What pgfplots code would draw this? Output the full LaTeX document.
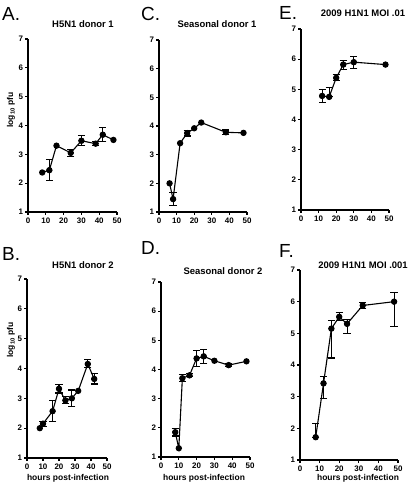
\documentclass[border=0pt]{standalone}
\usepackage{fontspec}
\setmainfont{Liberation Sans}
\usepackage{pgfplots}
\pgfplotsset{compat=1.18}
\usepackage{pgfplotstable}

% ---- data (line + markers) ----
\pgfplotstableread{
x y
8 2.37
12 2.45
16 3.30
24 3.05
30 3.47
38 3.37
42 3.68
48 3.50
}\dA
\pgfplotstableread{
x y ep em
12 2.45 0.37 0.35
24 3.05 0.13 0.12
30 3.47 0.18 0.17
38 3.37 0.08 0.07
42 3.68 0.24 0.23
}\eA
\pgfplotstableread{
x y
6 2.00
8 1.45
12 3.40
16 3.75
20 3.92
24 4.12
38 3.78
48 3.76
}\dC
\pgfplotstableread{
x y ep em
8 1.45 0.23 0.23
16 3.75 0.10 0.10
38 3.78 0.08 0.08
}\eC
\pgfplotstableread{
x y
12 4.78
16 4.75
20 5.38
24 5.82
30 5.90
48 5.82
}\dE
\pgfplotstableread{
x y ep em
12 4.78 0.22 0.23
16 4.75 0.30 0.00
20 5.38 0.12 0.10
24 5.82 0.15 0.17
30 5.90 0.20 0.22
}\eE
\pgfplotstableread{
x y
8 2.00
10 2.15
16 2.57
20 3.32
24 2.93
28 3.00
32 3.25
38 4.15
42 3.65
}\dB
\pgfplotstableread{
x y ep em
10 2.15 0.08 0.08
16 2.57 0.36 0.35
20 3.32 0.15 0.14
24 2.93 0.14 0.11
28 3.00 0.28 0.28
38 4.15 0.15 0.12
42 3.65 0.17 0.17
}\eB
\pgfplotstableread{
x y
8 1.85
10 1.30
12 3.70
16 3.80
20 4.38
24 4.45
30 4.30
38 4.15
48 4.28
}\dD
\pgfplotstableread{
x y ep em
8 1.85 0.13 0.13
12 3.70 0.12 0.10
16 3.80 0.05 0.05
20 4.38 0.27 0.28
24 4.45 0.23 0.23
38 4.15 0.05 0.05
}\eD
\pgfplotstableread{
x y
8 1.72
12 3.42
16 5.15
20 5.52
24 5.30
32 5.88
48 6.00
}\dF
\pgfplotstableread{
x y ep em
8 1.72 0.43 0.02
12 3.42 0.23 0.49
16 5.15 0.25 0.93
20 5.52 0.13 0.12
24 5.30 0.15 0.30
32 5.88 0.10 0.10
48 6.00 0.28 0.78
}\eF

\pgfplotsset{
 panel/.style={
  scale only axis, anchor=south west,
  xmin=0, xmax=50, ymin=1, ymax=7,
  axis lines=left, axis line style={-, line width=1.3bp, black},
  xtick={0,10,...,50}, ytick={1,...,7},
  tick align=outside, major tick length=3bp,
  tick style={line width=1.1bp, black},
  tick label style={font=\fontsize{8}{9}\selectfont\bfseries},
  /pgf/number format/assume math mode=true,
  xticklabel style={yshift=1bp},
  yticklabel style={xshift=1.5bp},
  clip=false,
 },
 dat/.style={black, line width=1.1bp, mark=*, mark size=2.6bp, mark options={solid}},
 err/.style={black, only marks, mark=*, mark size=2.6bp, forget plot,
   error bars/.cd, y dir=both, y explicit,
   error bar style={line width=1.1bp, solid, black},
   error mark=-,
   error mark options={draw=black, solid, line width=1.1bp, mark size=3.6bp, rotate=90}},
}
\newcommand{\panelplot}[2]{%
 \addplot[dat] table[x=x,y=y] {#1};
 \addplot[err] table[x=x,y=y,y error plus=ep,y error minus=em] {#2};
}
\newcommand{\ttl}{\fontsize{9.5}{10}\selectfont\bfseries}
\newcommand{\lett}{\fontsize{19}{20}\selectfont}

\begin{document}
\begin{tikzpicture}[x=1bp,y=1bp]
\path[use as bounding box] (0,0) rectangle (416,487);

% A
\begin{axis}[panel, at={(28bp,275bp)}, width=89bp, height=173bp]
\panelplot{\dA}{\eA}
\end{axis}
% C
\begin{axis}[panel, at={(159bp,275bp)}, width=88bp, height=172bp]
\panelplot{\dC}{\eC}
\end{axis}
% E
\begin{axis}[panel, at={(301bp,277bp)}, width=88bp, height=181bp]
\panelplot{\dE}{\eE}
\end{axis}
% B
\begin{axis}[panel, at={(27bp,29bp)}, width=80bp, height=179bp]
\panelplot{\dB}{\eB}
\end{axis}
% D
\begin{axis}[panel, at={(161bp,30bp)}, width=89bp, height=175bp]
\panelplot{\dD}{\eD}
\end{axis}
% F
\begin{axis}[panel, at={(300bp,27bp)}, width=98bp, height=190bp]
\panelplot{\dF}{\eF}
\end{axis}

% titles
\node[font=\ttl] at (83,463) {H5N1 donor 1};
\node[font=\ttl] at (217,463) {Seasonal donor 1};
\node[font=\ttl] at (363,474) {2009 H1N1 MOI .01};
\node[font=\ttl] at (83,222) {H5N1 donor 2};
\node[font=\ttl] at (223,216) {Seasonal donor 2};
\node[font=\ttl] at (363,222) {2009 H1N1 MOI .001};

% panel letters
\node[font=\lett, anchor=base west, inner sep=0] at (2,466) {A.};
\node[font=\lett, anchor=base west, inner sep=0] at (141,466) {C.};
\node[font=\lett, anchor=base west, inner sep=0] at (279,467) {E.};
\node[font=\lett, anchor=base west, inner sep=0] at (2,226) {B.};
\node[font=\lett, anchor=base west, inner sep=0] at (141,232) {D.};
\node[font=\lett, anchor=base west, inner sep=0] at (279,229) {F.};

% y labels
\node[font=\fontsize{8.5}{9}\selectfont\bfseries, rotate=90] at (11,377) {log$_{\mathbf{10}}$ pfu};
\node[font=\fontsize{8.5}{9}\selectfont\bfseries, rotate=90] at (11,147) {log$_{\mathbf{10}}$ pfu};

% x labels
\node[font=\fontsize{8.5}{9}\selectfont\bfseries] at (68,9) {hours post-infection};
\node[font=\fontsize{8.5}{9}\selectfont\bfseries] at (204,9) {hours post-infection};
\node[font=\fontsize{8.5}{9}\selectfont\bfseries] at (358,9) {hours post-infection};
\end{tikzpicture}
\end{document}
